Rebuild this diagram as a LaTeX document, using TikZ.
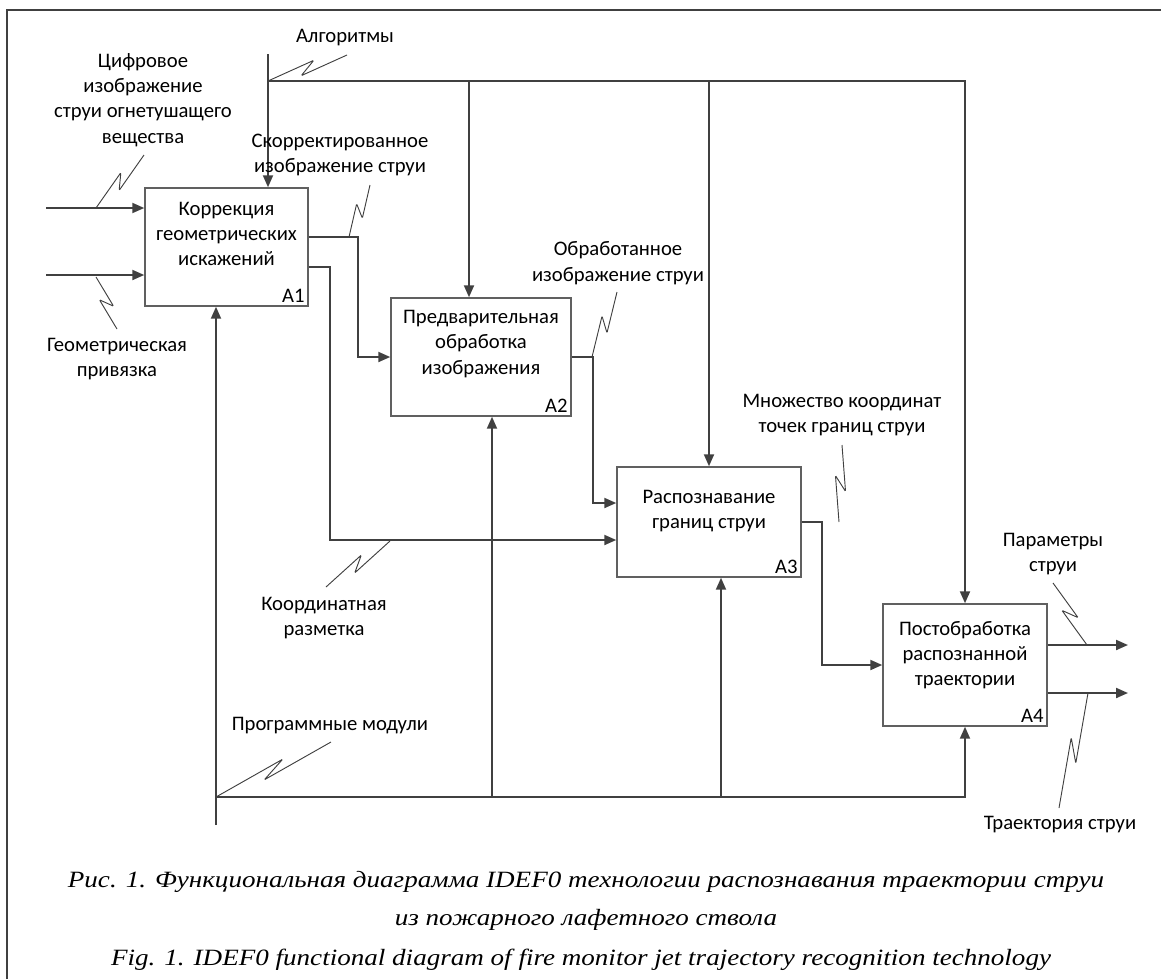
\documentclass[tikz,border=0pt]{standalone}
\usepackage{fontspec}
\setmainfont{Carlito}
\newfontfamily\capfont{Liberation Serif}[FakeStretch=1.16]
\usetikzlibrary{arrows.meta,calc}

\definecolor{linegray}{RGB}{64,64,64}
\definecolor{boxgray}{RGB}{96,96,96}

% squiggle from a connector to its label
\newcommand{\squig}[2]{%
  \draw[linegray,line width=0.7pt,rounded corners=0.8pt] (#1)
    -- ($(#1)!0.6!(#2)!4pt!90:(#2)$)
    -- ($(#1)!0.4!(#2)!4pt!-90:(#2)$)
    -- (#2);}

\begin{document}
\begin{tikzpicture}[x=0.75pt,y=-0.75pt,
    fbox/.style={draw=boxgray,line width=1.1pt,fill=white,inner sep=0pt},
    flow/.style={draw=linegray,line width=1.5pt,-{Triangle[length=9pt,width=7.5pt]}},
    bus/.style={draw=linegray,line width=1.5pt},
    boxtext/.style={align=center,font=\fontsize{15.5}{19}\selectfont,inner sep=0pt},
    lbl/.style={align=center,font=\fontsize{15.5}{19}\selectfont,inner sep=0pt},
    num/.style={font=\fontsize{15.5}{19}\selectfont,anchor=south east,inner sep=3pt},
    captext/.style={font=\capfont\itshape\fontsize{17.5}{21}\selectfont,anchor=base,inner sep=0pt}]

    \useasboundingbox (0,0) rectangle (1161,979);

    % Frame
    \draw[bus] (7,979) -- (7,10) -- (1161,10);

    % Blocks
    \node[fbox,minimum width=122.25pt,minimum height=88.5pt] (a1) at (226.5,247) {};
    \node[fbox,minimum width=135pt,minimum height=88.5pt] (a2) at (481,357) {};
    \node[fbox,minimum width=138pt,minimum height=82.5pt] (a3) at (709,522) {};
    \node[fbox,minimum width=123pt,minimum height=91.5pt] (a4) at (965,665) {};

    \node[boxtext] (t1) at ([yshift=9.75pt]a1.center) {Коррекция\\геометрических\\искажений};
    \node[boxtext] (t2) at ([yshift=9.75pt]a2.center) {Предварительная\\обработка\\изображения};
    \node[boxtext] (t3) at ([yshift=8.25pt]a3.center) {Распознавание\\границ струи};
    \node[boxtext] (t4) at ([yshift=7.5pt]a4.center) {Постобработка\\распознанной\\траектории};

    \foreach \i in {1,...,4}
        \node[num] (n\i) at (a\i.south east) {A\i};

    % Inputs
    \coordinate (in1) at (46,208);
    \coordinate (in2) at (46,275);
    \draw[flow] (in1) -- (in1 -| a1.west);
    \draw[flow] (in2) -- (in2 -| a1.west);

    % Controls
    \coordinate (ctl) at (268,54);
    \coordinate (cbus) at (268,81);
    \draw[flow] (ctl) -- (ctl |- a1.north);
    \draw[flow] (cbus) -| (a4.north);
    \draw[flow] ([xshift=-9pt]a2.north |- cbus) -- ([xshift=-9pt]a2.north);
    \draw[flow] (a3.north |- cbus) -- (a3.north);

    % Mechanisms
    \coordinate (mech) at (216,825);
    \coordinate (mbus) at (216,797);
    \draw[flow] (mech) -- (mech |- a1.south);
    \draw[flow] (mbus) -| (a4.south);
    \draw[flow] ([xshift=8.25pt]a2.south |- mbus) -- ([xshift=8.25pt]a2.south);
    \draw[flow] ([xshift=9pt]a3.south |- mbus) -- ([xshift=9pt]a3.south);

    % Outputs
    \draw[flow] ([yshift=7.5pt]a1.east) -- ++(49,0) |- (a2.west);
    \draw[flow] ([yshift=-15pt]a1.east) -- ++(21,0) |- ([yshift=-13.5pt]a3.west);
    \draw[flow] (a2.east) -- ++(21,0) |- ([yshift=14.25pt]a3.west);
    \draw[flow] (a3.east) -- ++(20,0) |- (a4.west);
    \coordinate (out1) at (1128,645);
    \coordinate (out2) at (1128,693);
    \draw[flow] (out1 -| a4.east) -- (out1);
    \draw[flow] (out2 -| a4.east) -- (out2);

    % Labels
    \node[lbl] (alg) at (345,38) {Алгоритмы};
    \node[lbl] (dig) at (143,100) {Цифровое\\изображение\\струи огнетушащего\\вещества};
    \node[lbl] (geo) at (117,359) {Геометрическая\\привязка};
    \node[lbl] (corr) at (340,155) {Скорректированное\\изображение струи};
    \node[lbl] (proc) at (618,263) {Обработанное\\изображение струи};
    \node[lbl] (coord) at (324,618) {Координатная\\разметка};
    \node[lbl] (prog) at (330,726) {Программные модули};
    \node[lbl] (pts) at (842,415) {Множество координат\\точек границ струи};
    \node[lbl] (par) at (1053,554) {Параметры\\струи};
    \node[lbl] (traj) at (1060,825) {Траектория струи};

    % Squiggles
    \coordinate (alg-b) at (347,55);
    \coordinate (dig-a) at (96,208);
    \coordinate (dig-b) at (144,155);
    \coordinate (geo-a) at (96,277);
    \coordinate (geo-b) at (117,329);
    \coordinate (corr-a) at (349,237);
    \coordinate (corr-b) at (370,185);
    \coordinate (proc-a) at (592,357);
    \coordinate (proc-b) at (617,292);
    \coordinate (coord-a) at (390,541);
    \coordinate (coord-b) at (326,587);
    \coordinate (prog-b) at (331,742);
    \coordinate (pts-a) at (839,522);
    \coordinate (pts-b) at (842,445);
    \coordinate (par-a) at (1087,645);
    \coordinate (par-b) at (1053,583);
    \coordinate (traj-a) at (1088,693);
    \coordinate (traj-b) at (1059,808);
    \squig{cbus}{alg-b}
    \squig{dig-a}{dig-b}
    \squig{geo-a}{geo-b}
    \squig{corr-a}{corr-b}
    \squig{proc-a}{proc-b}
    \squig{coord-a}{coord-b}
    \squig{mbus}{prog-b}
    \squig{pts-a}{pts-b}
    \squig{par-a}{par-b}
    \squig{traj-a}{traj-b}

    % Caption
    \node[captext] (cap1) at (586,887) {Рис. 1. Функциональная диаграмма IDEF0 технологии распознавания траектории струи};
    \node[captext] (cap2) at (586,925) {из пожарного лафетного ствола};
    \node[captext] (cap3) at (581,965) {Fig. 1. IDEF0 functional diagram of fire monitor jet trajectory recognition technology};

\end{tikzpicture}
\end{document}
